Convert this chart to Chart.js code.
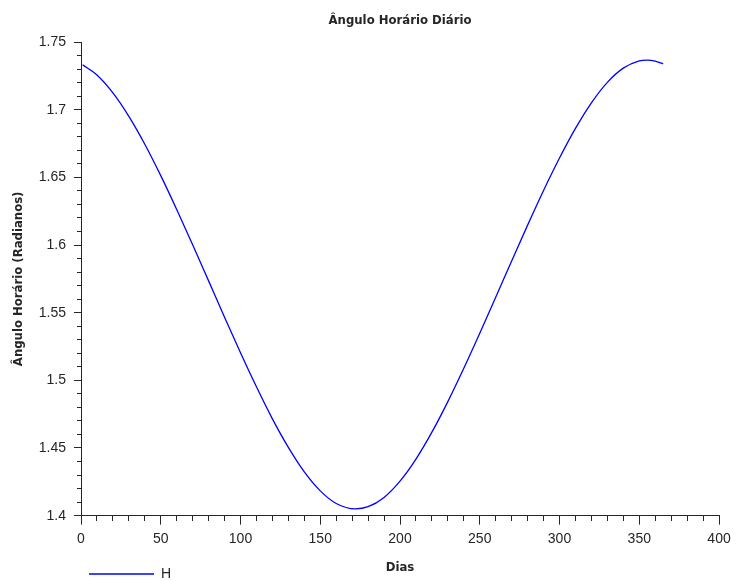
<!DOCTYPE html>
<html>
<head>
<meta charset="utf-8">
<script src="https://cdn.jsdelivr.net/npm/chart.js@4/dist/chart.umd.min.js"></script>
<style>
  body { margin: 0; background: #fff; }
  #wrap { width: 737px; height: 581px; }
</style>
</head>
<body>
<div id="wrap"><canvas id="chart"></canvas></div>
<script>
// dias do ano e angulo horario
var dias = [1, 10, 20, 30, 40, 50, 60, 70, 80, 90, 100, 110, 120, 130, 140, 150, 160, 172,
	180, 190, 200, 210, 220, 230, 240, 250, 260, 270, 280, 290, 300, 310, 320, 330, 340, 350, 355, 360, 365];
var angulo = [1.7332, 1.7256, 1.7124, 1.6951, 1.6745, 1.6513, 1.6263, 1.6002, 1.5735, 1.5467,
	1.5204, 1.4952, 1.4715, 1.4504, 1.4323, 1.4183, 1.4090, 1.4050,
	1.4066, 1.4135, 1.4255, 1.4418, 1.4617, 1.4843, 1.5089, 1.5348, 1.5614, 1.5882, 1.6147,
	1.6403, 1.6643, 1.6862, 1.7051, 1.7202, 1.7307, 1.7361, 1.7367, 1.7359, 1.7338];
var serie = 'H';
var titulo = 'Ângulo Horário Diário';
var tituloX = 'Dias';
var tituloY = 'Ângulo Horário (Radianos)';

var texto = '#262626';
var fonteTitulo = {family: 'DejaVu Sans', size: 11.7, weight: 'bold'};
var fonteTicks = {family: 'Liberation Sans', size: 14};

function majorX(v) { return Math.round(v) % 50 === 0; }
function majorY(v) { return Math.round(v * 100) % 5 === 0; }

var pontos = dias.map(function(d, i) { return {x: d, y: angulo[i]}; });

// move a legenda para baixo do eixo, como no grafico do Scilab
var legendaPlugin = {
	id: 'legendaPos',
	afterLayout: function(chart) {
		var lg = chart.legend;
		var dx = 89 - lg.left;
		lg.left += dx; lg.right += dx;
		lg.top = 567;
		lg.bottom = lg.top + 16;
		lg.height = 16;
	}
};

new Chart(document.getElementById('chart'), {
	type: 'line',
	data: {
		datasets: [{
			label: serie,
			data: pontos,
			borderColor: '#0000ff',
			backgroundColor: '#0000ff',
			borderWidth: 1.3,
			pointRadius: 0,
			cubicInterpolationMode: 'monotone',
			fill: false
		}]
	},
	options: {
		responsive: true,
		maintainAspectRatio: false,
		animation: false,
		events: [],
		layout: {padding: {left: 0, right: 13, top: 0, bottom: 0}},
		plugins: {
			title: {
				display: true,
				text: titulo,
				fullSize: false,
				color: texto,
				font: fonteTitulo,
				padding: {top: 13.5, bottom: 14.5}
			},
			legend: {
				position: 'bottom',
				align: 'start',
				maxHeight: 1,
				labels: {
					usePointStyle: true,
					pointStyle: 'line',
					pointStyleWidth: 65,
					boxHeight: 14,
					padding: 0,
					color: texto,
					font: {family: 'Liberation Sans', size: 14}
				}
			},
			tooltip: {enabled: false}
		},
		scales: {
			x: {
				type: 'linear',
				min: 0,
				max: 400,
				border: {display: true, color: texto, width: 1},
				grid: {
					drawOnChartArea: false,
					drawTicks: true,
					tickLength: 9,
					tickColor: texto,
					tickWidth: 1,
					tickBorderDash: function(ctx) {
						return ctx.tick && majorX(ctx.tick.value) ? [] : [5, 100];
					}
				},
				ticks: {
					stepSize: 10,
					autoSkip: false,
					maxRotation: 0,
					padding: 6.3,
					color: texto,
					font: fonteTicks,
					callback: function(v) { return majorX(v) ? String(Math.round(v)) : ''; }
				},
				title: {
					display: true,
					text: tituloX,
					color: texto,
					font: fonteTitulo,
					padding: {top: 7.3, bottom: 4.6}
				}
			},
			y: {
				type: 'linear',
				min: 1.4,
				max: 1.75,
				afterFit: function(scale) { scale.width = 81; },
				border: {display: true, color: texto, width: 1},
				grid: {
					drawOnChartArea: false,
					drawTicks: true,
					tickLength: 7,
					tickColor: texto,
					tickWidth: 1,
					tickBorderDash: function(ctx) {
						return ctx.tick && majorY(ctx.tick.value) ? [] : [0, 3, 4, 100];
					}
				},
				ticks: {
					stepSize: 0.01,
					autoSkip: false,
					padding: 8,
					color: texto,
					font: fonteTicks,
					callback: function(v) { return majorY(v) ? String(Math.round(v * 100) / 100) : ''; }
				},
				title: {
					display: true,
					text: tituloY,
					color: texto,
					font: fonteTitulo,
					padding: {top: 12, bottom: 4}
				}
			}
		}
	},
	plugins: [legendaPlugin]
});
</script>
</body>
</html>
